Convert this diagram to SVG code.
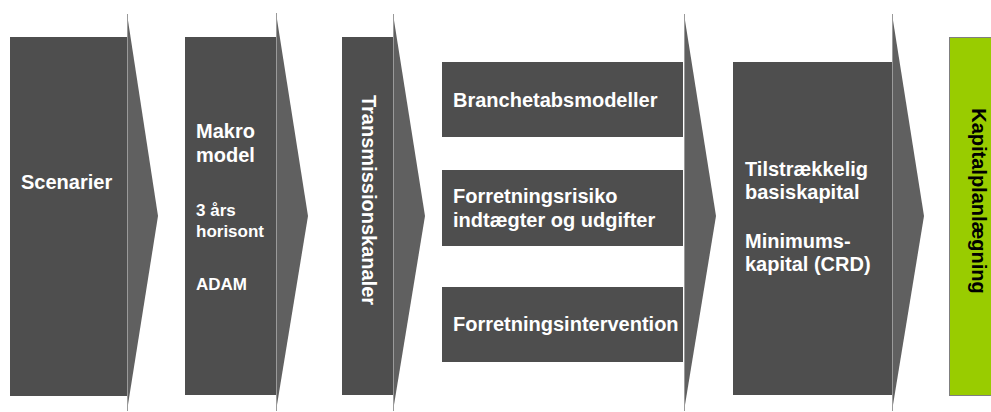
<svg xmlns="http://www.w3.org/2000/svg" width="991" height="412" viewBox="0 0 991 412">
<style>
.box{fill:#4e4e4e}
.chev{fill:#606060}
.edge{stroke:#9a9a9a;stroke-width:1}
.t{font-family:"Liberation Sans",Arial,sans-serif;font-weight:bold;fill:#ffffff;font-size:20px}
.s{font-size:17px}
.k{fill:#000000}
</style>
<rect width="991" height="412" fill="#ffffff"/>
<g id="connectors">
  <polygon class="chev" points="127,14 158,216 127,411"/>
  <line class="edge" x1="127.5" y1="14" x2="127.5" y2="411"/>
  <polygon class="chev" points="276,13 308,216 276,411"/>
  <line class="edge" x1="276.5" y1="13" x2="276.5" y2="411"/>
  <polygon class="chev" points="393,14 425,216 393,411"/>
  <line class="edge" x1="393.5" y1="14" x2="393.5" y2="411"/>
  <polygon class="chev" points="684,14 716,216 684,411"/>
  <line class="edge" x1="684.5" y1="14" x2="684.5" y2="411"/>
  <polygon class="chev" points="892,14 924,216 892,411"/>
  <line class="edge" x1="892.5" y1="14" x2="892.5" y2="411"/>
</g>
<g id="scenarier">
  <rect class="box" x="10" y="37" width="117" height="359"/>
  <text class="t" x="21" y="189">Scenarier</text>
</g>
<g id="makro">
  <rect class="box" x="185" y="37" width="91" height="358"/>
  <text class="t" x="196" y="138">Makro</text>
  <text class="t" x="196" y="162">model</text>
  <text class="t s" x="196" y="216">3 års</text>
  <text class="t s" x="196" y="237">horisont</text>
  <text class="t s" x="196" y="290">ADAM</text>
</g>
<g id="transmission">
  <rect class="box" x="342" y="37" width="51" height="358"/>
  <text class="t" transform="translate(362,200) rotate(90)" text-anchor="middle">Transmissionskanaler</text>
</g>
<g id="branchetab">
  <rect class="box" x="442" y="62" width="241" height="75"/>
  <text class="t" x="453" y="107">Branchetabsmodeller</text>
</g>
<g id="forretningsrisiko">
  <rect class="box" x="442" y="170" width="241" height="76"/>
  <text class="t" x="453" y="203">Forretningsrisiko</text>
  <text class="t" x="453" y="227">indtægter og udgifter</text>
</g>
<g id="forretningsintervention">
  <rect class="box" x="442" y="287" width="241" height="75"/>
  <text class="t" x="453" y="331">Forretningsintervention</text>
</g>
<g id="kapital">
  <rect class="box" x="733" y="62" width="159" height="333"/>
  <text class="t" x="745" y="176">Tilstrækkelig</text>
  <text class="t" x="745" y="199">basiskapital</text>
  <text class="t" x="745" y="248">Minimums-</text>
  <text class="t" x="745" y="271">kapital (CRD)</text>
</g>
<g id="kapitalplanlaegning">
  <rect x="949.5" y="37.5" width="50" height="358" fill="#99cc00" stroke="#7f7f7f" stroke-width="1"/>
  <text class="t k" transform="translate(972,201) rotate(90)" text-anchor="middle">Kapitalplanlægning</text>
</g>
</svg>
